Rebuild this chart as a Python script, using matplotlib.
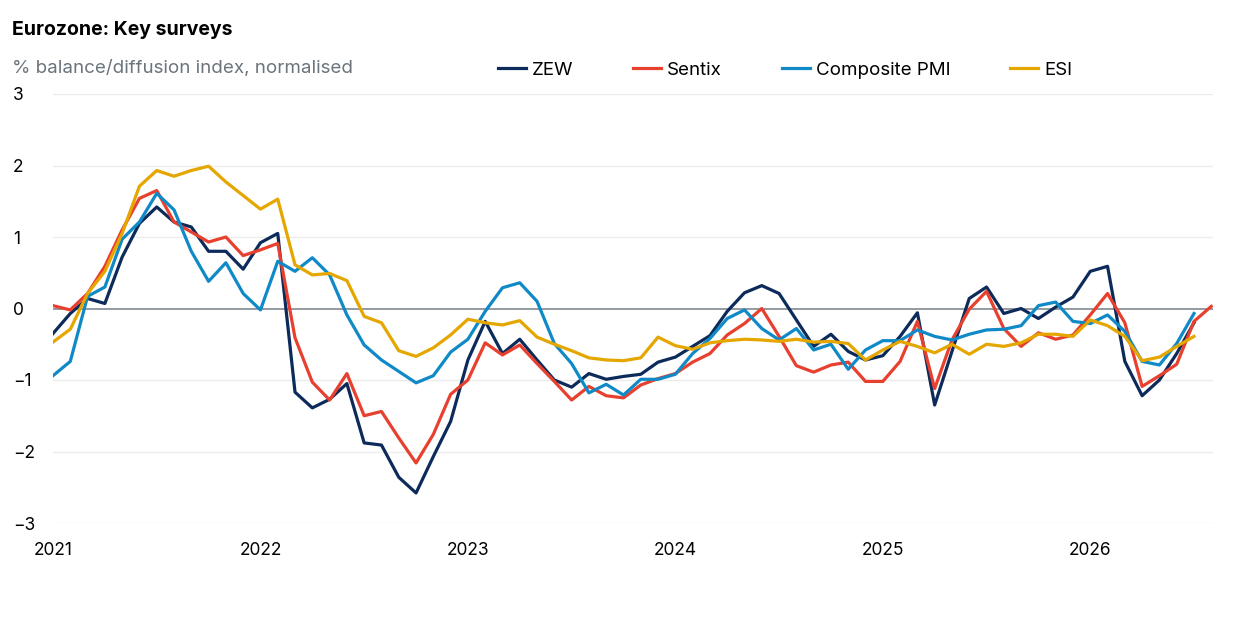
import numpy as np
import matplotlib.pyplot as plt

nan = np.nan
# monthly, Jan 2021 .. Aug 2026
zew = [-0.35, -0.07, 0.14, 0.07, 0.72, 1.19, 1.42, 1.21, 1.14, 0.80, 0.80, 0.55,
       0.92, 1.05, -1.17, -1.39, -1.27, -1.05, -1.88, -1.91, -2.36, -2.58, -2.07, -1.58,
       -0.72, -0.18, -0.63, -0.43, -0.72, -1.00, -1.10, -0.91, -0.99, -0.95, -0.92, -0.75,
       -0.68, -0.53, -0.38, -0.04, 0.22, 0.32, 0.21, -0.16, -0.53, -0.36, -0.60, -0.72,
       -0.66, -0.39, -0.06, -1.35, -0.60, 0.14, 0.30, -0.07, 0.00, -0.14, 0.02, 0.16,
       0.52, 0.59, -0.74, -1.22, -1.00, -0.63, -0.20, nan]
sentix = [0.04, -0.02, 0.21, 0.59, 1.10, 1.54, 1.65, 1.21, 1.07, 0.93, 1.00, 0.74,
          0.82, 0.91, -0.41, -1.03, -1.28, -0.91, -1.50, -1.44, -1.81, -2.16, -1.76, -1.20,
          -1.00, -0.48, -0.65, -0.51, -0.77, -1.02, -1.28, -1.09, -1.22, -1.25, -1.07, -0.98,
          -0.91, -0.75, -0.63, -0.37, -0.21, 0.00, -0.39, -0.80, -0.89, -0.79, -0.75, -1.02,
          -1.02, -0.74, -0.18, -1.12, -0.44, -0.01, 0.24, -0.28, -0.53, -0.34, -0.43, -0.37,
          -0.09, 0.21, -0.20, -1.09, -0.94, -0.78, -0.18, 0.03]
pmi = [-0.94, -0.74, 0.17, 0.30, 0.97, 1.21, 1.61, 1.38, 0.80, 0.38, 0.64, 0.21,
       -0.02, 0.66, 0.52, 0.71, 0.47, -0.09, -0.51, -0.72, -0.88, -1.04, -0.94, -0.61,
       -0.43, -0.04, 0.29, 0.36, 0.10, -0.49, -0.77, -1.18, -1.06, -1.21, -0.99, -0.99,
       -0.92, -0.63, -0.42, -0.14, -0.02, -0.28, -0.44, -0.28, -0.58, -0.50, -0.85, -0.58,
       -0.45, -0.45, -0.30, -0.39, -0.44, -0.36, -0.30, -0.29, -0.24, 0.04, 0.09, -0.18,
       -0.21, -0.09, -0.32, -0.74, -0.79, -0.49, -0.07, nan]
esi = [-0.47, -0.29, 0.21, 0.52, 1.05, 1.71, 1.93, 1.85, 1.93, 1.99, 1.77, 1.58,
       1.39, 1.53, 0.61, 0.47, 0.49, 0.39, -0.11, -0.20, -0.59, -0.67, -0.55, -0.37,
       -0.15, -0.20, -0.23, -0.17, -0.40, -0.50, -0.59, -0.69, -0.72, -0.73, -0.69, -0.40,
       -0.52, -0.57, -0.48, -0.45, -0.43, -0.44, -0.46, -0.43, -0.47, -0.46, -0.49, -0.72,
       -0.58, -0.46, -0.53, -0.62, -0.50, -0.64, -0.50, -0.53, -0.48, -0.36, -0.36, -0.39,
       -0.16, -0.24, -0.39, -0.73, -0.68, -0.53, -0.39, nan]
year_labels = ['2021', '2022', '2023', '2024', '2025', '2026']

plt.rcParams['font.family'] = ['Inter', 'DejaVu Sans']

fig = plt.figure(figsize=(12.5, 6.31), dpi=100)
ax = fig.add_axes([53 / 1250, 108 / 631, 1160 / 1250, 429 / 631])

x = np.arange(len(sentix))
series = [(zew, 'ZEW', '#0d2b5a'), (sentix, 'Sentix', '#e8402f'),
          (pmi, 'Composite PMI', '#0f8ac7'), (esi, 'ESI', '#e5a600')]
for vals, name, col in series:
    ax.plot(x, vals, color=col, lw=2.3, label=name)

ax.axhline(0, color='#8a9299', lw=1.3, zorder=0)
for v in [-3, -2, -1, 1, 2, 3]:
    ax.axhline(v, color='#ececec', lw=1, zorder=0)

ax.set_xlim(0, 67.1)
ax.set_ylim(-3, 3)
ax.set_xticks(np.arange(0, 61, 12))
ax.set_xticklabels(year_labels, fontsize=12.5)
ax.set_yticks([-3, -2, -1, 0, 1, 2, 3])
ax.set_yticklabels(['\u22123', '\u22122', '\u22121', '0', '1', '2', '3'], fontsize=12.5, ha='left')
ax.tick_params(axis='y', length=0, pad=29)
ax.tick_params(axis='x', length=0, pad=14)
for s in ax.spines.values():
    s.set_visible(False)

fig.text(12 / 1250, 1 - 30 / 631, 'Eurozone: Key surveys', fontsize=14, fontweight='bold',
         va='center', ha='left')
fig.text(12 / 1250, 1 - 68 / 631, '% balance/diffusion index, normalised', fontsize=13.5,
         color='#6b747c', va='center', ha='left')
fig.legend(loc='center', bbox_to_anchor=(785 / 1250, 1 - 70 / 631), ncol=4, frameon=False,
           fontsize=13.5, handlelength=1.5, handletextpad=0.3, columnspacing=3.2)

fig.savefig('out.png', dpi=100)
